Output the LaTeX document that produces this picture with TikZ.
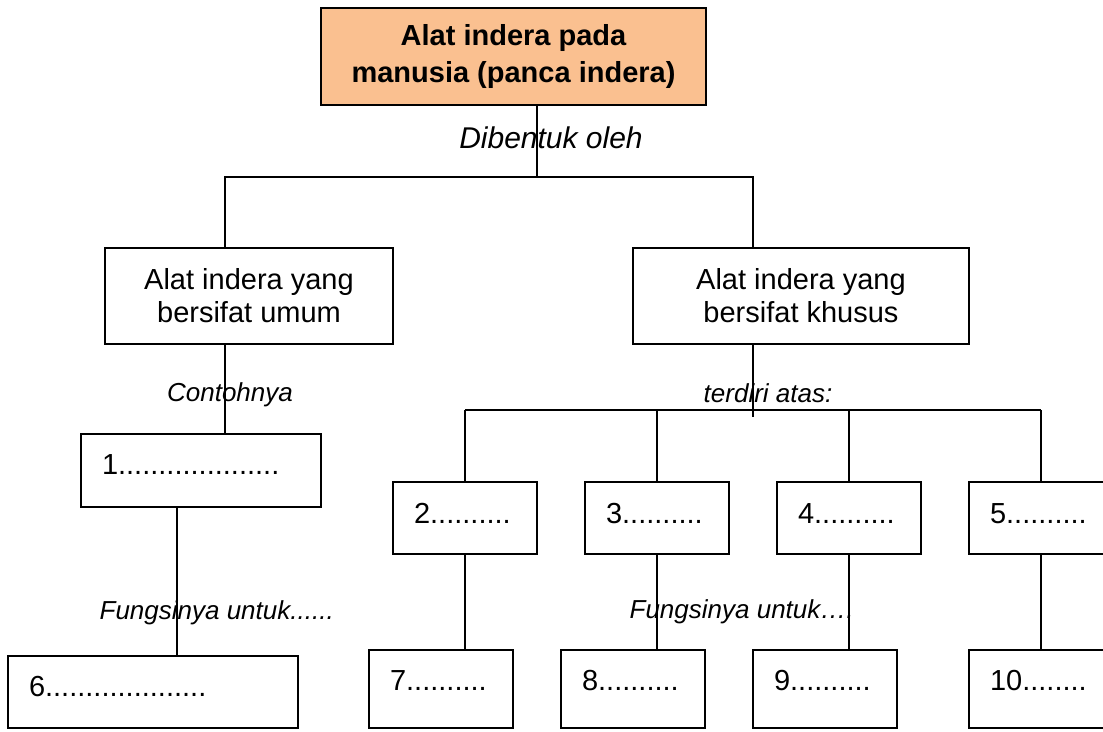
\documentclass[tikz,border=0pt]{standalone}
\usepackage{fontspec}
\setmainfont{Liberation Sans}
\definecolor{topfill}{RGB}{250,192,144}
\begin{document}
\begin{tikzpicture}[x=1pt,y=-1pt,
  line width=1.3pt,
  box/.style={draw=black, line width=1.3pt, inner sep=0pt, rectangle},
  big/.style={font=\fontsize{29pt}{33pt}\selectfont},
  twobox/.style={box, big, align=center, minimum height=96pt},
  numbox/.style={box, big, align=left, inner xsep=21pt, inner ysep=0pt, text height=21pt},
  smallbox/.style={numbox, text width=102pt},
  lab/.style={font=\fontsize{26pt}{30pt}\selectfont\itshape, inner sep=0pt},
]
\useasboundingbox (0,0) rectangle (1103,731);
\clip (0,0) rectangle (1103,731);

% boxes
\node[box, fill=topfill, minimum width=385pt, minimum height=97pt, align=center,
      font=\fontsize{29pt}{36pt}\selectfont\bfseries] (top) at (513.5,56.5)
      {Alat indera pada\\manusia (panca indera)};
\node[twobox, minimum width=288pt] (umum) at (249,296) {Alat indera yang\\bersifat umum};
\node[twobox, minimum width=336pt] (khusus) at (801,296) {Alat indera yang\\bersifat khusus};

\node[numbox, text width=198pt, minimum height=73pt, text depth=14pt] (b1) at (201,470.5) {1....................};
\node[numbox, text width=248pt, minimum height=72pt, text depth=13pt] (b6) at (153,692) {6....................};

\node[smallbox, minimum height=72pt, text depth=11pt] (b2) at (465,518) {2..........};
\node[smallbox, minimum height=72pt, text depth=11pt] (b3) at (657,518) {3..........};
\node[smallbox, minimum height=72pt, text depth=11pt] (b4) at (849,518) {4..........};
\node[smallbox, minimum height=72pt, text depth=11pt] (b5) at (1041,518) {5..........};

\node[smallbox, minimum height=78pt, text depth=19pt] (b7) at (441,689) {7..........};
\node[smallbox, minimum height=78pt, text depth=19pt] (b8) at (633,689) {8..........};
\node[smallbox, minimum height=78pt, text depth=19pt] (b9) at (825,689) {9..........};
\node[smallbox, minimum height=78pt, text depth=19pt] (b10) at (1041,689) {10........};

% junction coordinates
\coordinate (j1) at (537,177);
\coordinate (jL) at (225,177);
\coordinate (jR) at (753,177);
\coordinate (h) at (0,410);
\coordinate (hend) at (753,417);
\coordinate (c6) at (177,580);

% connectors
\draw (top.south -| j1) -- (j1);
\draw (umum.north -| jL) -- (jL) -- (jR) -- (khusus.north -| jR);
\draw (umum.south -| jL) -- (b1.north -| jL);
\draw (b1.south -| c6) -- (b6.north -| c6);
\draw (khusus.south -| jR) -- (hend);
\draw (b2.north |- h) -- (b5.north |- h);
\foreach \b in {b2,b3,b4,b5} \draw (\b.north |- h) -- (\b.north);
\draw (b2.south) -- (b2.south |- b7.north);
\draw (b3.south) -- (b3.south |- b8.north);
\draw (b4.south) -- (b4.south |- b9.north);
\draw (b5.south) -- (b5.south |- b10.north);

% labels
\node[lab, font=\fontsize{30pt}{34pt}\selectfont\itshape, anchor=base] (dib) at (551,148) {Dibentuk oleh};
\node[lab, anchor=base] (con) at (230,401) {Contohnya};
\node[lab, anchor=base] (ter) at (768,402) {terdiri atas:};
\node[lab, anchor=base west] (f1) at (99,619) {Fungsinya untuk......};
\node[lab, anchor=base west] (f2) at (629,618) {Fungsinya untuk….};
\end{tikzpicture}
\end{document}
